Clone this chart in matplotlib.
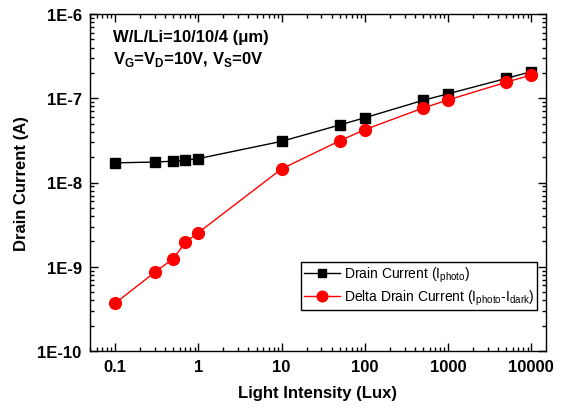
import matplotlib
matplotlib.use("Agg")
import matplotlib.pyplot as plt
from matplotlib.ticker import LogLocator, FixedLocator, FixedFormatter, NullFormatter

plt.rcParams['font.family'] = ['Liberation Sans', 'DejaVu Sans']
plt.rcParams['mathtext.fontset'] = 'custom'
plt.rcParams['mathtext.rm'] = 'Liberation Sans'
plt.rcParams['mathtext.bf'] = 'Liberation Sans:bold'

# Light intensity (Lux)
lux = [0.1, 0.3, 0.5, 0.7, 1, 10, 50, 100, 500, 1000, 5000, 10000]
# Drain current I_photo (A)
i_photo = [1.71e-8, 1.75e-8, 1.79e-8, 1.84e-8, 1.92e-8, 3.08e-8,
           4.82e-8, 5.87e-8, 9.44e-8, 1.13e-7, 1.72e-7, 2.07e-7]
# Delta drain current I_photo - I_dark (A)
i_delta = [3.68e-10, 8.6e-10, 1.25e-9, 1.95e-9, 2.54e-9, 1.45e-8,
           3.13e-8, 4.24e-8, 7.65e-8, 9.55e-8, 1.55e-7, 1.89e-7]

x_ticks = [0.1, 1, 10, 100, 1000, 10000]
x_labels = ['0.1', '1', '10', '100', '1000', '10000']
y_ticks = [1e-10, 1e-9, 1e-8, 1e-7, 1e-6]
y_labels = ['1E-10', '1E-9', '1E-8', '1E-7', '1E-6']

fig = plt.figure(figsize=(5.72, 4.10), dpi=100)
ax = fig.add_axes([90 / 572, 1 - 352 / 410, 456 / 572, 337 / 410])

ax.plot(lux, i_photo, color='black', lw=1, marker='s', ms=7,
        label='Drain Current (I$_{\\mathregular{photo}}$)')
ax.plot(lux, i_delta, color='red', lw=1, marker='o', ms=8.5,
        label='Delta Drain Current (I$_{\\mathregular{photo}}$-I$_{\\mathregular{dark}}$)')

ax.set_xscale('log')
ax.set_yscale('log')
ax.set_xlim(0.05, 15000)
ax.set_ylim(1e-10, 1e-6)

ax.xaxis.set_major_locator(FixedLocator(x_ticks))
ax.xaxis.set_major_formatter(FixedFormatter(x_labels))
ax.yaxis.set_major_locator(FixedLocator(y_ticks))
ax.yaxis.set_major_formatter(FixedFormatter(y_labels))
ax.xaxis.set_minor_locator(LogLocator(base=10, subs=range(2, 10), numticks=20))
ax.yaxis.set_minor_locator(LogLocator(base=10, subs=range(2, 10), numticks=20))
ax.xaxis.set_minor_formatter(NullFormatter())
ax.yaxis.set_minor_formatter(NullFormatter())

ax.tick_params(which='both', direction='in', top=True, right=True, width=1)
ax.tick_params(which='major', length=6, labelsize=12, pad=6)
ax.tick_params(which='minor', length=3)
for lab in ax.get_xticklabels() + ax.get_yticklabels():
    lab.set_fontweight('bold')
for s in ax.spines.values():
    s.set_linewidth(1)

ax.set_xlabel('Light Intensity (Lux)', fontsize=12, fontweight='bold', labelpad=8)
ax.set_ylabel('Drain Current (A)', fontsize=12, fontweight='bold', labelpad=6)

ax.text(0.051, 0.955, 'W/L/Li=10/10/4 (\u03bcm)', transform=ax.transAxes,
        fontsize=12, fontweight='bold', va='top')
ax.text(0.051, 0.897, 'V$_{\\mathbf{G}}$=V$_{\\mathbf{D}}$=10V, V$_{\\mathbf{S}}$=0V',
        transform=ax.transAxes, fontsize=12, fontweight='bold', va='top')

leg = ax.legend(loc='lower right', bbox_to_anchor=(0.981, 0.122), borderaxespad=0,
                fontsize=10, fancybox=False, edgecolor='black', framealpha=1,
                borderpad=0.2, labelspacing=0.25, handlelength=2.6,
                handletextpad=0.3, markerscale=0.9)
leg.get_frame().set_linewidth(1)

fig.savefig('out.png', dpi=100)
